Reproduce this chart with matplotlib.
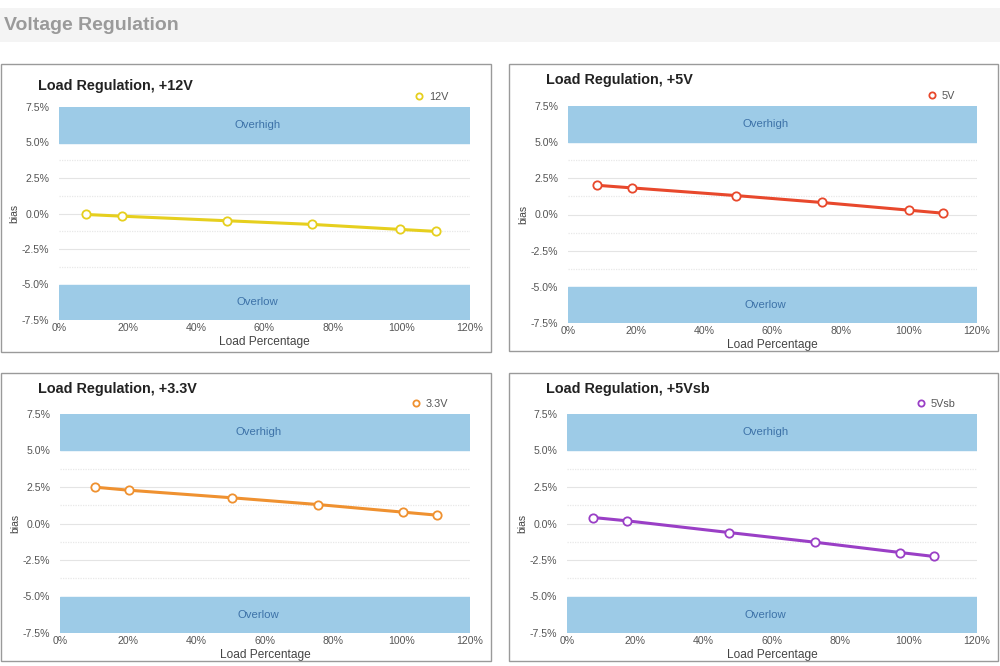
import matplotlib
matplotlib.use("Agg")
from matplotlib import pyplot as plt
from matplotlib.patches import Rectangle
from matplotlib.ticker import FuncFormatter

plt.rcParams['font.family'] = ['Liberation Sans', 'DejaVu Sans']

# dados (carga em %, desvio em %)
load_12v = [8, 18.5, 49, 74, 99.6, 110]
bias_12v = [-0.07, -0.19, -0.51, -0.77, -1.12, -1.26]

load_5v = [8.5, 18.7, 49.2, 74.5, 100, 110]
bias_5v = [2.02, 1.84, 1.31, 0.83, 0.30, 0.09]

load_33v = [10.2, 20.1, 50.4, 75.4, 100.3, 110.4]
bias_33v = [2.49, 2.28, 1.76, 1.30, 0.78, 0.57]

load_5vsb = [7.7, 17.7, 47.5, 72.5, 97.6, 107.5]
bias_5vsb = [0.41, 0.18, -0.62, -1.28, -1.99, -2.26]

titles = ["Load Regulation, +12V", "Load Regulation, +5V",
          "Load Regulation, +3.3V", "Load Regulation, +5Vsb"]
labels = ["12V", "5V", "3.3V", "5Vsb"]
cores = ["#e6cf1e", "#e8482c", "#ef9130", "#9a3fc6"]

yticks = [-7.5, -5.0, -2.5, 0.0, 2.5, 5.0, 7.5]
xticks = [0, 20, 40, 60, 80, 100, 120]

W, H = 1000, 666
fig = plt.figure(figsize=(10, 6.66), dpi=100)


def fx(px):
  return px / W


def fy(py):
  return 1 - py / H


def caixa(x0, y0, x1, y1):
  # moldura de cada painel em pixels
  fig.patches.append(Rectangle((fx(x0), fy(y1)), fx(x1 - x0), (y1 - y0) / H,
                               transform=fig.transFigure, fill=False,
                               edgecolor="#9a9a9a", linewidth=1.0))


def painel(box, ax_px, titulo_y, titulo, label, cor, xs, ys):
  caixa(*box)
  x0, y0, x1, y1 = ax_px
  ax = fig.add_axes([fx(x0), fy(y1), fx(x1 - x0), (y1 - y0) / H])
  ax.set_xlim(0, 120)
  ax.set_ylim(-7.5, 7.5)
  for s in ax.spines.values():
    s.set_visible(False)
  ax.axhspan(5, 7.5, color="#9dcbe7", zorder=0)
  ax.axhspan(-7.5, -5, color="#9dcbe7", zorder=0)
  ax.text(58, 6.25, "Overhigh", ha="center", va="center", color="#3d72a8", fontsize=8.2)
  ax.text(58, -6.25, "Overlow", ha="center", va="center", color="#3d72a8", fontsize=8.2)
  for g in [-2.5, 0, 2.5]:
    ax.axhline(g, color="#e4e4e4", linewidth=0.8, zorder=0)
  for g in [-3.75, -1.25, 1.25, 3.75]:
    ax.axhline(g, color="#e8e8e8", linewidth=0.9, linestyle=(0, (1, 1)), zorder=0)
  ax.set_xticks(xticks)
  ax.set_yticks(yticks)
  ax.xaxis.set_major_formatter(FuncFormatter(lambda v, p: "%d%%" % v))
  ax.yaxis.set_major_formatter(FuncFormatter(lambda v, p: "%.1f%%" % v))
  ax.tick_params(length=0, labelsize=7.6, labelcolor="#555555")
  ax.tick_params(axis="x", pad=2)
  ax.tick_params(axis="y", pad=7)
  ax.set_xlabel("Load Percentage", fontsize=8.6, color="#444444", labelpad=2)
  ax.set_ylabel("bias", fontsize=7.5, color="#444444", labelpad=2)
  ax.plot(xs, ys, color=cor, linewidth=2.2, marker="o", markersize=6,
          markerfacecolor="white", markeredgecolor=cor, markeredgewidth=1.3,
          label=label, zorder=3)
  leg = ax.legend(loc="lower right", bbox_to_anchor=(0.96, 1.0), frameon=False,
                  fontsize=7.8, handlelength=1.0, handletextpad=0.4, borderpad=0)
  for t in leg.get_texts():
    t.set_color("#555555")
  leg.get_lines()[0].set_linestyle("None")
  leg.get_lines()[0].set_markersize(4.5)
  fig.text(fx(box[0] + 37), fy(titulo_y), titulo, fontsize=10.4,
           fontweight="bold", color="#222222", va="center")
  return ax


# faixa do título geral
fig.patches.append(Rectangle((0, fy(42)), 1, 34 / H, transform=fig.transFigure,
                             facecolor="#f4f4f4", edgecolor="none"))
fig.text(fx(4), fy(25), "Voltage Regulation", fontsize=14, fontweight="bold",
         color="#9a9a9a", va="center")

painel((1, 64, 491, 352), (59, 107, 470, 320), 86, titles[0], labels[0], cores[0],
       load_12v, bias_12v)
painel((509, 64, 998, 351), (568, 106, 977, 323), 80, titles[1], labels[1], cores[1],
       load_5v, bias_5v)
painel((1, 373, 491, 661), (60, 414, 470, 633), 389, titles[2], labels[2], cores[2],
       load_33v, bias_33v)
painel((509, 373, 998, 661), (567, 414, 977, 633), 389, titles[3], labels[3], cores[3],
       load_5vsb, bias_5vsb)

plt.savefig("out.png", dpi=100)
